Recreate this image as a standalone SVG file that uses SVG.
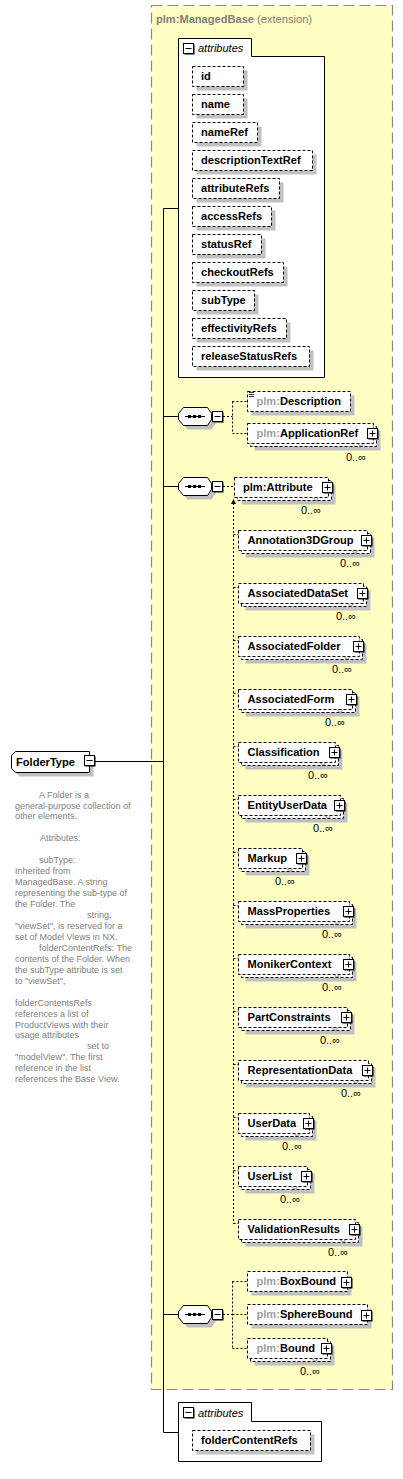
<svg xmlns="http://www.w3.org/2000/svg" xmlns:xlink="http://www.w3.org/1999/xlink" width="403" height="1479" viewBox="0 0 403 1479">
<style>
.ext{fill:#FFFFC4;stroke:#888;stroke-width:1.2;stroke-dasharray:11,5}
.sh{fill:#C0C0C0}
.el{fill:#fff;stroke:#000;stroke-dasharray:3,2}
.pnl{fill:#fff;stroke:#000}
.t{font-family:"Liberation Sans",Arial,sans-serif;font-size:11.1px;font-weight:bold;fill:#000}
.g{fill:#A0A0A0}
.occ{font-family:"Liberation Sans",Arial,sans-serif;font-size:11px;fill:#000;text-anchor:end}
.doc{font-family:"Liberation Sans",Arial,sans-serif;font-size:9px;fill:#808080}
.it{font-family:"Liberation Sans",Arial,sans-serif;font-size:11px;font-style:italic;fill:#000}
.con{stroke:#000;fill:none}
.dcon{stroke:#000;fill:none;stroke-dasharray:2,2}
.notch{fill:none;stroke:#555;stroke-width:0.8}
</style>
<defs>
<g id="plus"><rect x="1.5" y="1.5" width="10" height="10" fill="#000"/><rect x="0.5" y="0.5" width="10" height="10" fill="#fff" stroke="#000"/><path d="M2.5 5.5h6M5.5 2.5v6" stroke="#000"/></g>
<g id="minus"><rect x="1.5" y="1.5" width="10" height="10" fill="#000"/><rect x="0.5" y="0.5" width="10" height="10" fill="#fff" stroke="#000"/><path d="M2.5 5.5h6" stroke="#000"/></g>
<g id="seq"><polygon points="9.5,4.5 33.5,4.5 37.5,10.5 37.5,16.5 33.5,22.5 9.5,22.5 4.5,16.5 4.5,10.5" class="sh"/><polygon points="5.5,0.5 29.5,0.5 33.5,6.5 33.5,12.5 29.5,18.5 5.5,18.5 0.5,12.5 0.5,6.5" fill="#fff" stroke="#000"/><path d="M7 9.5h20" stroke="#000"/><rect x="10" y="8" width="3" height="3" fill="#000"/><rect x="15" y="8" width="3" height="3" fill="#000"/><rect x="20" y="8" width="3" height="3" fill="#000"/></g>
</defs>

<g id="extension">
<rect class="ext" x="151.5" y="5.5" width="241" height="1384"/>
<text x="156" y="23" style="font-family:'Liberation Sans',Arial,sans-serif;font-size:11.1px;fill:#808080"><tspan font-weight="bold">plm:ManagedBase</tspan> (extension)</text>
</g>

<g id="connectors">
<path class="con" d="M95 761.5H163.5M163.5 208.5V1432.5M163.5 208.5H178.5M163.5 416.5H178.5M163.5 486.5H178.5M163.5 1314.5H178.5M163.5 1432.5H178.5"/>
<path class="dcon" d="M223 416.5H232.5M232.5 401.5V433.5M232.5 401.5H247.5M232.5 433.5H247.5"/>
<path class="dcon" d="M223 486.5H234.5"/>
<path class="dcon" d="M223 1314.5H232.5M232.5 1281.5V1348.5M232.5 1281.5H247.5M232.5 1314.5H247.5M232.5 1348.5H247.5"/>
<path class="dcon" d="M233.5 503V1223.5M233.5 534.5H238.5M233.5 587.5H238.5M233.5 640.5H238.5M233.5 693.5H238.5M233.5 746.5H238.5M233.5 799.5H238.5M233.5 852.5H238.5M233.5 905.5H238.5M233.5 958.5H238.5M233.5 1011.5H238.5M233.5 1064.5H238.5M233.5 1117.5H238.5M233.5 1170.5H238.5M233.5 1223.5H238.5"/>
<polygon points="233.5,499 231,504 236,504" fill="#000"/>
<path d="M235 497L239.5 492.5" stroke="#000" stroke-width="1.2"/>
<polygon points="241,491 236.5,492.5 239.5,495.5" fill="#000"/>
</g>

<g id="FolderType">
<path d="M19.5 755.5H93.5V776.5H19.5L15.5 772.5V759.5Z" class="sh"/>
<path d="M15.5 751.5H89.5V772.5H15.5L11.5 768.5V755.5Z" fill="#fff" stroke="#000"/>
<text class="t" x="16" y="766">FolderType</text>
<use xlink:href="#minus" x="84" y="755"/>
<text class="doc" x="39" y="797.5">A Folder is a</text>
<text class="doc" x="15" y="808.5">general-purpose collection of</text>
<text class="doc" x="15" y="819.4">other elements.</text>
<text class="doc" x="40" y="841.3">Attributes:</text>
<text class="doc" x="39" y="863.2">subType:</text>
<text class="doc" x="15" y="874.2">Inherited from</text>
<text class="doc" x="15" y="885.1">ManagedBase. A string</text>
<text class="doc" x="15" y="896.1">representing the sub-type of</text>
<text class="doc" x="15" y="907">the Folder. The</text>
<text class="doc" x="87" y="918">string,</text>
<text class="doc" x="15" y="928.9">"viewSet", is reserved for a</text>
<text class="doc" x="15" y="939.9">set of Model Views in NX.</text>
<text class="doc" x="39" y="950.8">folderContentRefs: The</text>
<text class="doc" x="15" y="961.8">contents of the Folder. When</text>
<text class="doc" x="15" y="972.7">the subType attribute is set</text>
<text class="doc" x="15" y="983.7">to "viewSet",</text>
<text class="doc" x="15" y="1005.6">folderContentsRefs</text>
<text class="doc" x="15" y="1016.5">references a list of</text>
<text class="doc" x="15" y="1027.5">ProductViews with their</text>
<text class="doc" x="15" y="1038.4">usage attributes</text>
<text class="doc" x="87" y="1049.4">set to</text>
<text class="doc" x="15" y="1060.3">"modelView". The first</text>
<text class="doc" x="15" y="1071.3">reference in the list</text>
<text class="doc" x="15" y="1082.2">references the Base View.</text>
</g>

<g id="attributes-base">
<path class="pnl" d="M178.5 377.5V38.5H251.5V56.5H324.5V377.5Z"/>
<use xlink:href="#minus" x="183" y="43"/>
<text class="it" x="198" y="52">attributes</text>
<g id="att-id"><rect class="sh" x="196.5" y="70.5" width="51" height="20"/><rect class="el" x="192.5" y="66.5" width="51" height="20"/><text class="t" x="201" y="80">id</text></g>
<g id="att-name"><rect class="sh" x="196.5" y="98.5" width="51" height="20"/><rect class="el" x="192.5" y="94.5" width="51" height="20"/><text class="t" x="201" y="108">name</text></g>
<g id="att-nameRef"><rect class="sh" x="196.5" y="126.5" width="65" height="20"/><rect class="el" x="192.5" y="122.5" width="65" height="20"/><text class="t" x="201" y="136">nameRef</text></g>
<g id="att-descriptionTextRef"><rect class="sh" x="196.5" y="154.5" width="120" height="20"/><rect class="el" x="192.5" y="150.5" width="120" height="20"/><text class="t" x="201" y="164">descriptionTextRef</text></g>
<g id="att-attributeRefs"><rect class="sh" x="196.5" y="182.5" width="87" height="20"/><rect class="el" x="192.5" y="178.5" width="87" height="20"/><text class="t" x="201" y="192">attributeRefs</text></g>
<g id="att-accessRefs"><rect class="sh" x="196.5" y="210.5" width="79" height="20"/><rect class="el" x="192.5" y="206.5" width="79" height="20"/><text class="t" x="201" y="220">accessRefs</text></g>
<g id="att-statusRef"><rect class="sh" x="196.5" y="238.5" width="69" height="20"/><rect class="el" x="192.5" y="234.5" width="69" height="20"/><text class="t" x="201" y="248">statusRef</text></g>
<g id="att-checkoutRefs"><rect class="sh" x="196.5" y="266.5" width="91" height="20"/><rect class="el" x="192.5" y="262.5" width="91" height="20"/><text class="t" x="201" y="276">checkoutRefs</text></g>
<g id="att-subType"><rect class="sh" x="196.5" y="294.5" width="62" height="20"/><rect class="el" x="192.5" y="290.5" width="62" height="20"/><text class="t" x="201" y="304">subType</text></g>
<g id="att-effectivityRefs"><rect class="sh" x="196.5" y="322.5" width="94" height="20"/><rect class="el" x="192.5" y="318.5" width="94" height="20"/><text class="t" x="201" y="332">effectivityRefs</text></g>
<g id="att-releaseStatusRefs"><rect class="sh" x="196.5" y="350.5" width="117" height="20"/><rect class="el" x="192.5" y="346.5" width="117" height="20"/><text class="t" x="201" y="360">releaseStatusRefs</text></g>
</g>

<g id="sequence1">
<use xlink:href="#seq" x="178" y="407"/>
<use xlink:href="#minus" x="212" y="411"/>
</g>
<g id="el-Description">
<rect class="sh" x="251.5" y="395.5" width="103" height="20"/><rect class="el" x="247.5" y="391.5" width="103" height="20"/>
<path d="M249 392.5h5M249 394.5h5M249 396.5h5" stroke="#000" stroke-width="0.8"/>
<text class="t" x="256.5" y="405"><tspan class="g">plm:</tspan>Description</text>
</g>
<g id="el-ApplicationRef">
<rect class="sh" x="254.5" y="430.5" width="126" height="20"/><rect class="el" x="250.5" y="426.5" width="126" height="20"/><rect class="el" x="247.5" y="423.5" width="126" height="20"/>
<text class="t" x="256.5" y="437"><tspan class="g">plm:</tspan>ApplicationRef</text>
<use xlink:href="#plus" x="367" y="428"/>
<polyline class="notch" points="358,443.5 361,446.5 364,443.5"/>
<text class="occ" x="366" y="461">0..∞</text>
</g>

<g id="sequence2">
<use xlink:href="#seq" x="178" y="477"/>
<use xlink:href="#minus" x="212" y="481"/>
</g>
<g id="el-Attribute">
<rect class="sh" x="241.5" y="484.5" width="94" height="20"/><rect class="el" x="237.5" y="480.5" width="94" height="20"/><rect class="el" x="234.5" y="477.5" width="94" height="20"/>
<text class="t" x="243" y="491">plm:Attribute</text>
<use xlink:href="#plus" x="322" y="482"/>
<polyline class="notch" points="313,497.5 316,500.5 319,497.5"/>
<text class="occ" x="321" y="514">0..∞</text>
</g>

<g id="el-Annotation3DGroup"><rect class="sh" x="245.5" y="537.5" width="129" height="20"/><rect class="el" x="241.5" y="533.5" width="129" height="20"/><rect class="el" x="238.5" y="530.5" width="129" height="20"/><text class="t" x="247.5" y="544">Annotation3DGroup</text><use xlink:href="#plus" x="361" y="535"/><polyline class="notch" points="352,550.5 355,553.5 358,550.5"/><text class="occ" x="360" y="567">0..∞</text></g>
<g id="el-AssociatedDataSet"><rect class="sh" x="245.5" y="590.5" width="125" height="20"/><rect class="el" x="241.5" y="586.5" width="125" height="20"/><rect class="el" x="238.5" y="583.5" width="125" height="20"/><text class="t" x="247.5" y="597">AssociatedDataSet</text><use xlink:href="#plus" x="357" y="588"/><polyline class="notch" points="348,603.5 351,606.5 354,603.5"/><text class="occ" x="356" y="620">0..∞</text></g>
<g id="el-AssociatedFolder"><rect class="sh" x="245.5" y="643.5" width="121" height="20"/><rect class="el" x="241.5" y="639.5" width="121" height="20"/><rect class="el" x="238.5" y="636.5" width="121" height="20"/><text class="t" x="247.5" y="650">AssociatedFolder</text><use xlink:href="#plus" x="353" y="641"/><polyline class="notch" points="344,656.5 347,659.5 350,656.5"/><text class="occ" x="352" y="673">0..∞</text></g>
<g id="el-AssociatedForm"><rect class="sh" x="245.5" y="696.5" width="114" height="20"/><rect class="el" x="241.5" y="692.5" width="114" height="20"/><rect class="el" x="238.5" y="689.5" width="114" height="20"/><text class="t" x="247.5" y="703">AssociatedForm</text><use xlink:href="#plus" x="346" y="694"/><polyline class="notch" points="337,709.5 340,712.5 343,709.5"/><text class="occ" x="345" y="726">0..∞</text></g>
<g id="el-Classification"><rect class="sh" x="245.5" y="749.5" width="97" height="20"/><rect class="el" x="241.5" y="745.5" width="97" height="20"/><rect class="el" x="238.5" y="742.5" width="97" height="20"/><text class="t" x="247.5" y="756">Classification</text><use xlink:href="#plus" x="329" y="747"/><polyline class="notch" points="320,762.5 323,765.5 326,762.5"/><text class="occ" x="328" y="779">0..∞</text></g>
<g id="el-EntityUserData"><rect class="sh" x="245.5" y="802.5" width="102" height="20"/><rect class="el" x="241.5" y="798.5" width="102" height="20"/><rect class="el" x="238.5" y="795.5" width="102" height="20"/><text class="t" x="247.5" y="809">EntityUserData</text><use xlink:href="#plus" x="334" y="800"/><polyline class="notch" points="325,815.5 328,818.5 331,815.5"/><text class="occ" x="333" y="832">0..∞</text></g>
<g id="el-Markup"><rect class="sh" x="245.5" y="855.5" width="64" height="20"/><rect class="el" x="241.5" y="851.5" width="64" height="20"/><rect class="el" x="238.5" y="848.5" width="64" height="20"/><text class="t" x="247.5" y="862">Markup</text><use xlink:href="#plus" x="296" y="853"/><polyline class="notch" points="287,868.5 290,871.5 293,868.5"/><text class="occ" x="295" y="885">0..∞</text></g>
<g id="el-MassProperties"><rect class="sh" x="245.5" y="908.5" width="111" height="20"/><rect class="el" x="241.5" y="904.5" width="111" height="20"/><rect class="el" x="238.5" y="901.5" width="111" height="20"/><text class="t" x="247.5" y="915">MassProperties</text><use xlink:href="#plus" x="343" y="906"/><polyline class="notch" points="334,921.5 337,924.5 340,921.5"/><text class="occ" x="342" y="938">0..∞</text></g>
<g id="el-MonikerContext"><rect class="sh" x="245.5" y="961.5" width="111" height="20"/><rect class="el" x="241.5" y="957.5" width="111" height="20"/><rect class="el" x="238.5" y="954.5" width="111" height="20"/><text class="t" x="247.5" y="968">MonikerContext</text><use xlink:href="#plus" x="343" y="959"/><polyline class="notch" points="334,974.5 337,977.5 340,974.5"/><text class="occ" x="342" y="991">0..∞</text></g>
<g id="el-PartConstraints"><rect class="sh" x="245.5" y="1014.5" width="109" height="20"/><rect class="el" x="241.5" y="1010.5" width="109" height="20"/><rect class="el" x="238.5" y="1007.5" width="109" height="20"/><text class="t" x="247.5" y="1021">PartConstraints</text><use xlink:href="#plus" x="341" y="1012"/><polyline class="notch" points="332,1027.5 335,1030.5 338,1027.5"/><text class="occ" x="340" y="1044">0..∞</text></g>
<g id="el-RepresentationData"><rect class="sh" x="245.5" y="1067.5" width="130" height="20"/><rect class="el" x="241.5" y="1063.5" width="130" height="20"/><rect class="el" x="238.5" y="1060.5" width="130" height="20"/><text class="t" x="247.5" y="1074">RepresentationData</text><use xlink:href="#plus" x="362" y="1065"/><polyline class="notch" points="353,1080.5 356,1083.5 359,1080.5"/><text class="occ" x="361" y="1097">0..∞</text></g>
<g id="el-UserData"><rect class="sh" x="245.5" y="1120.5" width="71" height="20"/><rect class="el" x="241.5" y="1116.5" width="71" height="20"/><rect class="el" x="238.5" y="1113.5" width="71" height="20"/><text class="t" x="247.5" y="1127">UserData</text><use xlink:href="#plus" x="303" y="1118"/><polyline class="notch" points="294,1133.5 297,1136.5 300,1133.5"/><text class="occ" x="302" y="1150">0..∞</text></g>
<g id="el-UserList"><rect class="sh" x="245.5" y="1173.5" width="69" height="20"/><rect class="el" x="241.5" y="1169.5" width="69" height="20"/><rect class="el" x="238.5" y="1166.5" width="69" height="20"/><text class="t" x="247.5" y="1180">UserList</text><use xlink:href="#plus" x="301" y="1171"/><polyline class="notch" points="292,1186.5 295,1189.5 298,1186.5"/><text class="occ" x="300" y="1203">0..∞</text></g>
<g id="el-ValidationResults"><rect class="sh" x="245.5" y="1226.5" width="117" height="20"/><rect class="el" x="241.5" y="1222.5" width="117" height="20"/><rect class="el" x="238.5" y="1219.5" width="117" height="20"/><text class="t" x="247.5" y="1233">ValidationResults</text><use xlink:href="#plus" x="349" y="1224"/><polyline class="notch" points="340,1239.5 343,1242.5 346,1239.5"/><text class="occ" x="348" y="1256">0..∞</text></g>

<g id="sequence3">
<use xlink:href="#seq" x="178" y="1305"/>
<use xlink:href="#minus" x="212" y="1309"/>
</g>
<g id="el-BoxBound"><rect class="sh" x="251.5" y="1275.5" width="100" height="20"/><rect class="el" x="247.5" y="1271.5" width="100" height="20"/><text class="t" x="256.5" y="1285"><tspan class="g">plm:</tspan>BoxBound</text><use xlink:href="#plus" x="341" y="1277"/></g>
<g id="el-SphereBound"><rect class="sh" x="251.5" y="1308.5" width="120" height="20"/><rect class="el" x="247.5" y="1304.5" width="120" height="20"/><text class="t" x="256.5" y="1318"><tspan class="g">plm:</tspan>SphereBound</text><use xlink:href="#plus" x="361" y="1310"/></g>
<g id="el-Bound"><rect class="sh" x="254.5" y="1345.5" width="80" height="20"/><rect class="el" x="250.5" y="1341.5" width="80" height="20"/><rect class="el" x="247.5" y="1338.5" width="80" height="20"/><text class="t" x="256.5" y="1352"><tspan class="g">plm:</tspan>Bound</text><use xlink:href="#plus" x="321" y="1343"/><polyline class="notch" points="312,1358.5 315,1361.5 318,1358.5"/><text class="occ" x="320" y="1375">0..∞</text></g>

<g id="attributes-folder">
<path class="pnl" d="M178.5 1461.5V1402.5H251.5V1421.5H321.5V1461.5Z"/>
<use xlink:href="#minus" x="183" y="1407"/>
<text class="it" x="198" y="1417">attributes</text>
<g id="att-folderContentRefs"><rect class="sh" x="196.5" y="1434.5" width="118" height="20"/><rect class="el" x="192.5" y="1430.5" width="118" height="20"/><text class="t" x="201" y="1444">folderContentRefs</text></g>
</g>
</svg>
